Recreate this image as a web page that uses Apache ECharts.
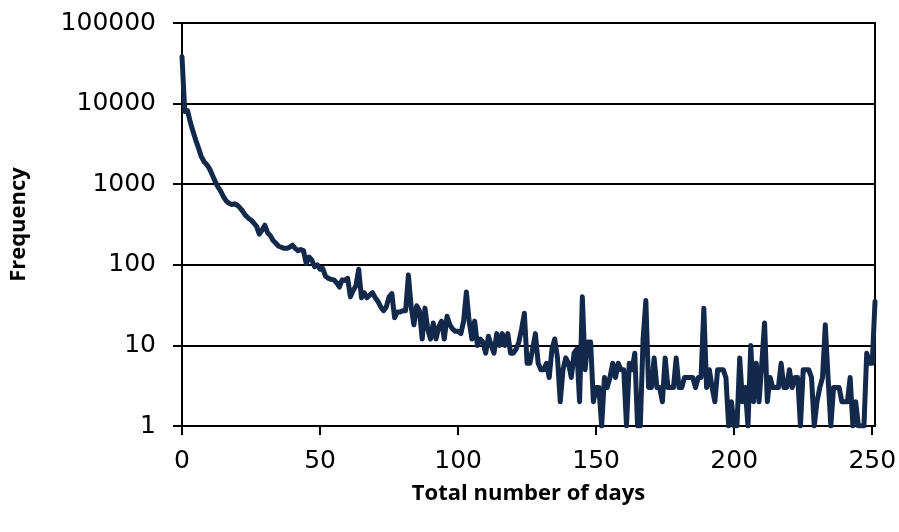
<!DOCTYPE html>
<html>
<head>
<meta charset="utf-8">
<script src="https://cdn.jsdelivr.net/npm/echarts@6/dist/echarts.min.js"></script>
<style>
  html, body { margin: 0; padding: 0; background: #fff; }
  #chart { width: 899px; height: 532px; }
</style>
</head>
<body>
<div id="chart"></div>
<script>
// Frequency of each total number of days (day 0 .. 251)
const frequency = [
  38000, 8000, 8200, 5900, 4500, 3500, 2800, 2200, 1900, 1750,
  1550, 1300, 1080, 930, 820, 700, 620, 580, 560, 570,
  550, 510, 460, 410, 380, 360, 330, 300, 240, 270,
  310, 250, 230, 200, 185, 170, 165, 160, 160, 165,
  175, 160, 150, 155, 150, 104, 125, 115, 95, 100,
  88, 90, 72, 68, 66, 65, 60, 53, 65, 64,
  68, 40, 48, 55, 88, 39, 45, 39, 42, 45,
  39, 35, 30, 27, 30, 40, 44, 22, 26, 26,
  27, 27, 75, 30, 18, 31, 27, 12, 29, 16,
  12, 19, 12, 17, 20, 12, 23, 18, 16, 15,
  15, 14, 20, 46, 20, 12, 20, 10, 12, 11,
  8, 13, 10, 8, 14, 10, 14, 10, 14, 8,
  8, 9, 11, 16, 25, 6, 6, 9, 14, 6,
  5, 5, 6, 4, 9, 12, 7, 2, 5, 7,
  6, 4, 8, 9, 2, 40, 5, 11, 11, 2,
  3, 3, 1, 4, 3, 4, 6, 4, 6, 5,
  5, 1, 6, 5, 8, 1, 1, 12, 36, 3,
  3, 7, 3, 3, 2, 7, 3, 3, 3, 7,
  3, 3, 4, 4, 4, 4, 3, 4, 4, 29,
  3, 5, 3, 2, 5, 5, 5, 4, 1, 2,
  1, 1, 7, 2, 3, 1, 10, 2, 6, 2,
  6, 19, 2, 4, 3, 3, 3, 6, 3, 3,
  5, 3, 4, 4, 1, 5, 5, 5, 4, 1,
  2, 3, 4, 18, 4, 1, 3, 3, 3, 2,
  2, 2, 4, 1, 2, 1, 1, 1, 8, 6,
  6, 35
];
const days = frequency.map((_, i) => i);
const xTickLabels = [0, 50, 100, 150, 200, 250];
const yTickLabels = [1, 10, 100, 1000, 10000, 100000];

const seriesData = days.map((d, i) => [d, frequency[i]]);

const chart = echarts.init(document.getElementById('chart'), null, { renderer: 'canvas' });
chart.setOption({
  animation: false,
  backgroundColor: '#ffffff',
  grid: {
    left: 182, top: 23, right: 24, bottom: 106,
    containLabel: false,
    outerBoundsMode: 'none',
    show: true, borderColor: '#000', borderWidth: 2, backgroundColor: 'transparent'
  },
  xAxis: {
    type: 'value',
    min: 0, max: 251,
    interval: 50,
    name: 'Total number of days',
    nameLocation: 'middle',
    nameGap: 57,
    nameTextStyle: { fontFamily: 'Open Sans', fontWeight: 'bold', fontSize: 22, color: '#000' },
    axisLine: { show: true, onZero: false, lineStyle: { color: '#000', width: 2 } },
    axisTick: { show: true, length: 9, lineStyle: { color: '#000', width: 2 }, customValues: xTickLabels },
    axisLabel: {
      customValues: xTickLabels,
      formatter: v => String(v),
      margin: 23, color: '#000', fontFamily: 'DejaVu Sans', fontSize: 25
    },
    splitLine: { show: false }
  },
  yAxis: {
    type: 'log',
    logBase: 10,
    min: 1, max: 100000,
    name: 'Frequency',
    nameLocation: 'middle',
    nameGap: 152,
    nameRotate: 90,
    nameTextStyle: { fontFamily: 'Open Sans', fontWeight: 'bold', fontSize: 22, color: '#000' },
    axisLine: { show: true, lineStyle: { color: '#000', width: 2 } },
    axisTick: { show: true, length: 9, lineStyle: { color: '#000', width: 2 }, customValues: yTickLabels },
    axisLabel: {
      customValues: yTickLabels,
      formatter: v => String(Math.round(v)),
      margin: 26, color: '#000', fontFamily: 'DejaVu Sans', fontSize: 25
    },
    splitLine: { show: true, lineStyle: { color: '#000', width: 2 } }
  },
  series: [{
    type: 'line',
    data: seriesData,
    showSymbol: false,
    symbol: 'none',
    lineStyle: { color: '#13294b', width: 5, cap: 'round', join: 'round' },
    z: 5
  }]
});
</script>
</body>
</html>
